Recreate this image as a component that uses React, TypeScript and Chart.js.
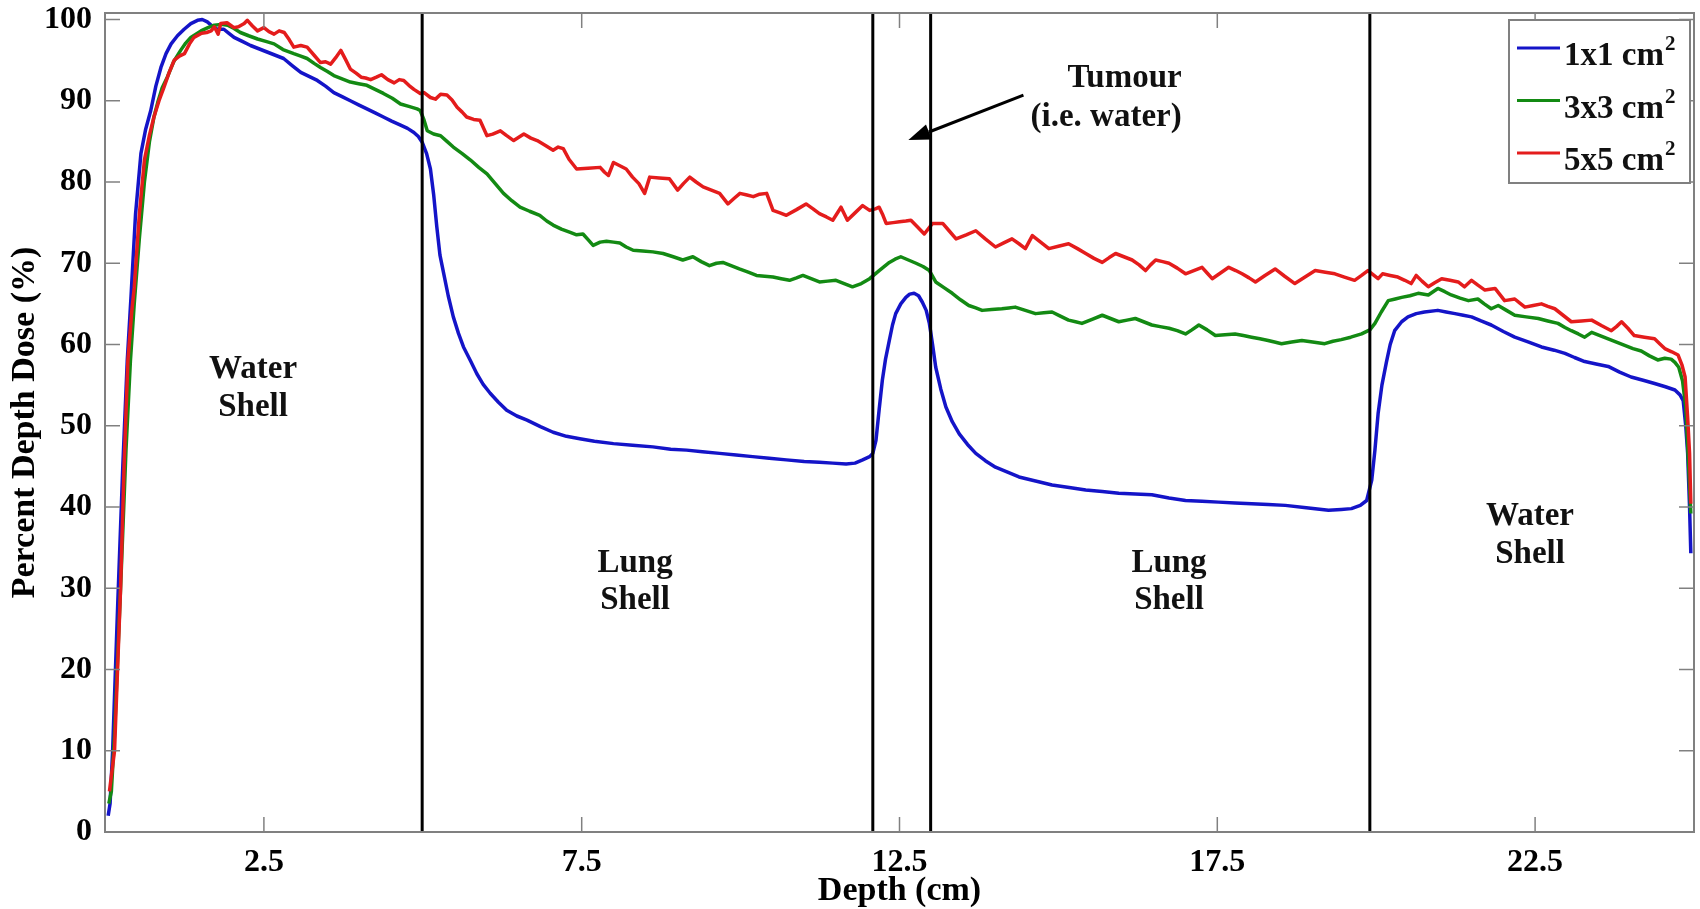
import React, { useEffect, useRef } from "react";
import { Chart, registerables } from "chart.js";

Chart.register(...registerables);

// ---------- data ----------
const depth1x1 = [0.05,0.08,0.12,0.2,0.28,0.35,0.41,0.48,0.565,0.64,0.72,0.8,0.88,0.96,1.04,1.14,1.245,1.35,1.455,1.53,1.61,1.7,1.77,1.87,1.95,2.03,2.16,2.29,2.42,2.55,2.68,2.81,2.95,3.08,3.21,3.34,3.47,3.6,3.73,3.86,3.99,4.12,4.25,4.38,4.51,4.65,4.76,4.86,4.93,4.99,5.06,5.12,5.17,5.22,5.27,5.33,5.4,5.48,5.56,5.64,5.75,5.85,5.95,6.06,6.19,6.32,6.48,6.64,6.85,7.05,7.26,7.47,7.7,8.0,8.3,8.62,8.9,9.15,9.4,9.67,9.93,10.19,10.45,10.72,11.0,11.24,11.45,11.66,11.8,11.92,12.03,12.08,12.13,12.18,12.23,12.28,12.34,12.39,12.44,12.52,12.6,12.66,12.73,12.8,12.86,12.92,12.97,13.02,13.07,13.15,13.23,13.33,13.44,13.57,13.7,13.85,14.01,14.2,14.38,14.64,14.9,15.17,15.43,15.69,15.95,16.21,16.47,16.74,17.0,17.26,17.52,17.78,18.04,18.3,18.57,18.9,19.25,19.45,19.61,19.75,19.85,19.93,19.98,20.03,20.09,20.16,20.22,20.29,20.4,20.5,20.63,20.76,20.97,21.1,21.24,21.37,21.5,21.65,21.81,22.0,22.18,22.4,22.6,22.8,22.97,23.12,23.28,23.46,23.65,23.83,24.01,24.2,24.38,24.55,24.7,24.78,24.83,24.87,24.9,24.93,24.95];
const dose1x1 = [2.0,3.5,10,28,45,58,66,76,83.5,86.5,88.8,91.8,94.1,95.8,97,98,98.8,99.5,99.9,100,99.7,99.1,98.8,98.8,98.3,97.8,97.3,96.8,96.4,96,95.6,95.2,94.3,93.5,93.0,92.5,91.8,91,90.5,90,89.5,89,88.5,88,87.5,87,86.6,86.1,85.6,84.9,83.5,81.6,78.5,74.5,71,68.7,66,63.4,61.4,59.7,58,56.4,55.1,54,52.9,51.9,51.2,50.7,49.9,49.2,48.7,48.4,48.1,47.8,47.6,47.4,47.1,47,46.8,46.6,46.4,46.2,46,45.8,45.6,45.5,45.4,45.3,45.4,45.8,46.2,46.6,48.2,52,55.6,58.2,60.5,62.4,63.8,65,65.8,66.2,66.3,66,65.2,64.2,62.6,60,57.2,54.5,52.3,50.5,49,47.7,46.6,45.7,44.9,44.3,43.7,43.2,42.7,42.4,42.1,41.9,41.7,41.6,41.5,41.1,40.8,40.7,40.6,40.5,40.4,40.3,40.2,39.9,39.6,39.7,39.8,40.2,40.8,43.3,47,51.5,55,57.8,60,61.7,62.8,63.4,63.8,64,64.2,64,63.8,63.6,63.4,62.9,62.4,61.6,60.9,60.3,59.7,59.3,58.9,58.4,57.9,57.6,57.3,56.6,56,55.6,55.2,54.8,54.4,53.8,53.1,50,46.6,40,34.3];

const depth3x3 = [0.06,0.1,0.15,0.25,0.33,0.4,0.46,0.54,0.62,0.7,0.77,0.83,0.9,0.98,1.08,1.19,1.27,1.35,1.43,1.51,1.62,1.72,1.83,1.93,2.03,2.13,2.26,2.4,2.53,2.66,2.8,2.97,3.08,3.18,3.29,3.39,3.5,3.6,3.73,3.86,3.99,4.12,4.25,4.38,4.52,4.65,4.78,4.91,4.96,5.02,5.07,5.17,5.28,5.38,5.48,5.62,5.75,5.88,6.01,6.14,6.27,6.4,6.53,6.68,6.84,6.95,7.05,7.18,7.32,7.42,7.52,7.6,7.68,7.79,7.89,8.0,8.1,8.2,8.31,8.46,8.62,8.78,8.94,9.09,9.25,9.38,9.51,9.62,9.72,9.85,9.98,10.12,10.25,10.38,10.51,10.64,10.77,10.88,10.98,11.11,11.24,11.37,11.5,11.63,11.76,11.9,12.03,12.18,12.34,12.43,12.52,12.64,12.76,12.87,12.97,13.07,13.2,13.33,13.46,13.59,13.7,13.8,13.95,14.11,14.22,14.32,14.48,14.64,14.77,14.9,15.03,15.16,15.27,15.37,15.53,15.69,15.82,15.95,16.08,16.21,16.34,16.47,16.6,16.74,16.87,17.0,17.1,17.21,17.34,17.47,17.62,17.78,17.91,18.04,18.17,18.3,18.4,18.51,18.67,18.83,19.0,19.19,19.32,19.45,19.6,19.77,19.9,19.98,20.08,20.19,20.3,20.4,20.53,20.66,20.82,20.97,21.08,21.18,21.32,21.45,21.6,21.7,21.81,21.92,22.05,22.18,22.36,22.55,22.7,22.86,22.97,23.07,23.18,23.28,23.39,23.52,23.65,23.78,23.91,24.04,24.17,24.3,24.43,24.54,24.64,24.7,24.76,24.82,24.87,24.91,24.95];
const dose3x3 = [3.5,5,12,31,47,58,65,73,80,85,88,89.8,91.6,92.9,94.8,96.2,97.1,97.8,98.2,98.6,99,99.3,99.4,99.3,98.9,98.4,98,97.6,97.3,97,96.3,95.8,95.5,95.2,94.6,94.1,93.6,93.1,92.7,92.3,92.1,91.9,91.4,90.9,90.3,89.6,89.3,89,88.8,87.6,86.3,85.9,85.7,85,84.3,83.5,82.7,81.8,81,79.8,78.6,77.7,76.9,76.4,75.9,75.2,74.7,74.2,73.8,73.5,73.6,72.9,72.2,72.6,72.7,72.6,72.5,72,71.6,71.5,71.4,71.2,70.8,70.4,70.8,70.2,69.7,70,70.1,69.7,69.3,68.9,68.5,68.4,68.3,68.1,67.9,68.2,68.5,68.1,67.7,67.8,67.9,67.5,67.1,67.5,68.1,69.1,70.1,70.5,70.8,70.4,70,69.6,69.1,67.7,67,66.3,65.5,64.8,64.5,64.2,64.3,64.4,64.5,64.6,64.2,63.8,63.9,64,63.5,63,62.8,62.6,63.1,63.6,63.2,62.8,63,63.2,62.8,62.4,62.2,62,61.7,61.3,61.8,62.4,61.8,61.1,61.2,61.3,61.1,60.9,60.7,60.5,60.3,60.1,60.3,60.5,60.3,60.1,60.4,60.6,60.9,61.3,61.8,62.6,64,65.4,65.6,65.8,66,66.3,66.1,66.9,66.5,66.1,65.7,65.4,65.6,65,64.4,64.8,64.2,63.6,63.4,63.2,62.9,62.6,62.1,61.7,61.3,60.9,61.5,61.1,60.7,60.3,59.9,59.5,59.2,58.6,58.1,58.3,58.2,57.8,57.2,55.5,52.3,46,39.2];

const depth5x5 = [0.07,0.15,0.245,0.3,0.36,0.42,0.46,0.54,0.62,0.7,0.77,0.85,0.93,1.01,1.09,1.17,1.25,1.33,1.4,1.52,1.6,1.67,1.72,1.78,1.82,1.92,2.03,2.1,2.19,2.24,2.32,2.4,2.5,2.58,2.66,2.74,2.82,2.9,2.97,3.08,3.18,3.29,3.39,3.47,3.55,3.63,3.71,3.79,3.86,3.95,4.03,4.1,4.18,4.27,4.35,4.45,4.55,4.63,4.7,4.78,4.86,4.96,5.02,5.12,5.2,5.28,5.38,5.46,5.54,5.62,5.69,5.8,5.9,6.01,6.1,6.22,6.32,6.43,6.51,6.59,6.7,6.8,6.93,7.05,7.13,7.21,7.3,7.42,7.6,7.79,7.86,7.92,8.0,8.1,8.2,8.3,8.4,8.49,8.57,8.72,8.88,9.01,9.1,9.2,9.3,9.41,9.54,9.67,9.8,9.9,9.99,10.1,10.2,10.3,10.41,10.51,10.62,10.72,10.88,11.03,11.14,11.24,11.35,11.45,11.58,11.68,11.8,11.92,12.03,12.12,12.18,12.24,12.29,12.4,12.5,12.6,12.68,12.78,12.89,13.02,13.18,13.28,13.39,13.55,13.7,13.85,14.01,14.14,14.27,14.38,14.48,14.59,14.72,14.85,15.0,15.16,15.3,15.43,15.56,15.69,15.8,15.9,16.03,16.16,16.27,16.37,16.45,16.53,16.64,16.74,16.87,17.0,17.13,17.26,17.34,17.42,17.55,17.68,17.79,17.89,18.0,18.1,18.25,18.41,18.56,18.72,18.88,19.04,19.2,19.35,19.5,19.66,19.77,19.87,19.95,20.03,20.1,20.22,20.34,20.45,20.55,20.63,20.72,20.82,20.92,21.03,21.16,21.29,21.39,21.5,21.6,21.71,21.87,21.95,22.02,22.18,22.26,22.34,22.47,22.6,22.7,22.81,22.94,23.07,23.23,23.39,23.55,23.7,23.78,23.86,23.96,24.06,24.22,24.38,24.46,24.54,24.65,24.75,24.81,24.86,24.9,24.93,24.95];
const dose5x5 = [5,10,30,45,58,64,67,76,82.7,85.8,88,90,91.7,93.5,95,95.5,95.8,97,97.8,98.3,98.4,98.6,99.1,98.2,99.5,99.6,99,99.1,99.5,99.9,99.2,98.6,99,98.5,98.2,98.6,98.4,97.5,96.6,96.8,96.6,95.6,94.7,94.8,94.5,95.3,96.2,95,93.9,93.4,92.9,92.8,92.6,92.9,93.2,92.6,92.2,92.6,92.5,91.9,91.4,90.9,91,90.4,90.2,90.8,90.7,90.1,89.2,88.6,88,87.7,87.6,85.7,85.9,86.3,85.7,85.1,85.5,85.9,85.4,85.1,84.5,83.9,84.3,84.1,82.8,81.6,81.7,81.8,81.2,80.8,82.4,82,81.6,80.6,79.8,78.6,80.6,80.5,80.4,79,79.8,80.6,80,79.4,79,78.6,77.3,78,78.6,78.4,78.2,78.5,78.6,76.5,76.2,75.9,76.6,77.3,76.7,76.1,75.7,75.3,76.9,75.3,76.2,77.1,76.5,76.7,76.9,75.9,74.9,75,75.1,75.2,75.3,74.5,73.6,74.9,74.9,74,73,73.5,74,73,72,72.5,73,72.4,71.8,73.4,72.6,71.8,72.1,72.4,71.8,71.2,70.6,70.1,70.7,71.2,70.8,70.4,69.8,69.1,69.8,70.4,70.2,70,69.4,68.7,69.1,69.5,68.8,68.1,68.8,69.5,69.1,68.7,68.2,67.7,68.5,69.3,68.4,67.5,68.3,69.1,68.9,68.7,68.3,67.9,68.5,69.1,68.6,68.1,68.7,68.5,68.3,67.9,67.5,68.5,67.8,67.1,67.6,68.1,67.9,67.7,67.1,67.9,67.3,66.7,66.9,66.1,65.4,65.6,65.1,64.6,64.8,65,64.7,64.4,63.6,62.8,62.9,63,62.3,61.7,62.2,62.8,62,61.1,60.9,60.7,60.1,59.5,59.1,58.7,57.5,56,51,46.6,40.4];

const seriesLabels = ["1x1 cm²", "3x3 cm²", "5x5 cm²"];
const xTickValues = [2.5, 7.5, 12.5, 17.5, 22.5];
const xTickLabels = ["2.5", "7.5", "12.5", "17.5", "22.5"];
const yTickValues = [0, 10, 20, 30, 40, 50, 60, 70, 80, 90, 100];
const yTickLabels = ["0", "10", "20", "30", "40", "50", "60", "70", "80", "90", "100"];
const boundaryDepths = [4.99, 12.08, 12.99, 19.9];

// annotation texts (positions in data units)
const regionTexts = [
  { lines: ["Water", "Shell"], depth: 2.33, doses: [56.9, 52.3] },
  { lines: ["Lung", "Shell"], depth: 8.34, doses: [33.1, 28.55] },
  { lines: ["Lung", "Shell"], depth: 16.74, doses: [33.1, 28.55] },
  { lines: ["Water", "Shell"], depth: 22.42, doses: [38.8, 34.1] },
];
const tumourText = { lines: ["Tumour", "(i.e. water)"], rightDepth: 16.94, doses: [92.8, 87.9] };
const tumourArrow = { from: [14.45, 90.7], to: [12.64, 85.17] };

// ---------- styles ----------
const SERIF = "'Liberation Serif', 'Times New Roman', Times, serif";
const COLORS = ["#1414c8", "#138a13", "#e41c1c"];
const BOX_COLOR = "#808080";

function pairs(xs: number[], ys: number[]) {
  return xs.map((x, i) => ({ x, y: ys[i] }));
}

const decorPlugin = {
  id: "decor",
  beforeDraw(chart: any) {
    const { ctx, width, height } = chart;
    ctx.save();
    ctx.fillStyle = "#ffffff";
    ctx.fillRect(0, 0, width, height);
    ctx.restore();
  },
  afterDatasetsDraw(chart: any) {
    const { ctx, chartArea: a, scales } = chart;
    const xs = scales.x;
    const ys = scales.y;
    const line = (x1: number, y1: number, x2: number, y2: number) => {
      ctx.beginPath();
      ctx.moveTo(x1, y1);
      ctx.lineTo(x2, y2);
      ctx.stroke();
    };
    ctx.save();

    // region boundary lines
    ctx.strokeStyle = "#000";
    ctx.lineWidth = 3;
    boundaryDepths.forEach((d) => {
      const px = xs.getPixelForValue(d);
      line(px, a.top, px, a.bottom);
    });

    // axes box
    ctx.strokeStyle = BOX_COLOR;
    ctx.lineWidth = 2;
    ctx.strokeRect(a.left, a.top, a.right - a.left, a.bottom - a.top);

    // inward ticks on all four sides
    ctx.lineWidth = 1.5;
    const tl = 15;
    yTickValues.forEach((v) => {
      const py = ys.getPixelForValue(v);
      line(a.left, py, a.left + tl, py);
      line(a.right - tl, py, a.right, py);
    });
    xTickValues.forEach((v) => {
      const px = xs.getPixelForValue(v);
      line(px, a.bottom, px, a.bottom - tl);
      line(px, a.top, px, a.top + tl);
    });

    // region texts
    ctx.fillStyle = "#111";
    ctx.font = `bold 33px ${SERIF}`;
    ctx.textBaseline = "middle";
    ctx.textAlign = "center";
    regionTexts.forEach((t) => {
      const px = xs.getPixelForValue(t.depth);
      t.lines.forEach((s, i) => ctx.fillText(s, px, ys.getPixelForValue(t.doses[i])));
    });
    ctx.textAlign = "right";
    const rx = xs.getPixelForValue(tumourText.rightDepth);
    tumourText.lines.forEach((s, i) => ctx.fillText(s, rx, ys.getPixelForValue(tumourText.doses[i])));

    // arrow
    const x1 = xs.getPixelForValue(tumourArrow.from[0]);
    const y1 = ys.getPixelForValue(tumourArrow.from[1]);
    const x2 = xs.getPixelForValue(tumourArrow.to[0]);
    const y2 = ys.getPixelForValue(tumourArrow.to[1]);
    const ang = Math.atan2(y2 - y1, x2 - x1);
    const hl = 22, hw = 8;
    const bx = x2 - hl * Math.cos(ang);
    const by = y2 - hl * Math.sin(ang);
    ctx.strokeStyle = "#000";
    ctx.lineWidth = 3;
    line(x1, y1, bx, by);
    ctx.fillStyle = "#000";
    ctx.beginPath();
    ctx.moveTo(x2, y2);
    ctx.lineTo(bx + hw * Math.sin(ang), by - hw * Math.cos(ang));
    ctx.lineTo(bx - hw * Math.sin(ang), by + hw * Math.cos(ang));
    ctx.closePath();
    ctx.fill();

    // legend box
    const lw = 181, lh = 163;
    const lx = a.right - 4 - lw;
    const ly = a.top + 7;
    ctx.fillStyle = "#fff";
    ctx.fillRect(lx, ly, lw, lh);
    ctx.strokeStyle = BOX_COLOR;
    ctx.lineWidth = 2;
    ctx.strokeRect(lx, ly, lw, lh);
    chart.data.datasets.forEach((ds: any, i: number) => {
      const ry = ly + 28 + i * 52.5;
      ctx.strokeStyle = ds.borderColor;
      ctx.lineWidth = 3;
      line(lx + 8, ry, lx + 51, ry);
      const hasSup = ds.label.includes("²");
      const main = ds.label.replace("²", "");
      ctx.fillStyle = "#111";
      ctx.textAlign = "left";
      ctx.textBaseline = "alphabetic";
      ctx.font = `bold 33px ${SERIF}`;
      ctx.fillText(main, lx + 55, ry + 17);
      if (hasSup) {
        const w = ctx.measureText(main).width;
        ctx.font = `bold 21px ${SERIF}`;
        ctx.fillText("2", lx + 56 + w, ry + 2);
      }
    });

    ctx.restore();
  },
};

export default function App() {
  const ref = useRef<HTMLCanvasElement | null>(null);

  useEffect(() => {
    const canvas = ref.current;
    if (!canvas) return;
    const tickFont = { family: SERIF, weight: "bold" as const, size: 32 };
    const titleFont = { family: SERIF, weight: "bold" as const, size: 34, lineHeight: 1 };
    const chart = new Chart(canvas, {
      type: "line",
      data: {
        datasets: [
          { label: seriesLabels[0], data: pairs(depth1x1, dose1x1), borderColor: COLORS[0], order: 2 },
          { label: seriesLabels[1], data: pairs(depth3x3, dose3x3), borderColor: COLORS[1], order: 1 },
          { label: seriesLabels[2], data: pairs(depth5x5, dose5x5), borderColor: COLORS[2], order: 0 },
        ].map((d) => ({
          ...d,
          borderWidth: 3.5,
          pointRadius: 0,
          fill: false,
          tension: 0,
          borderJoinStyle: "round" as const,
          backgroundColor: d.borderColor,
        })),
      },
      options: {
        responsive: false,
        animation: false,
        devicePixelRatio: 1,
        layout: { padding: { left: 0, top: 13, right: 6, bottom: 0 } },
        plugins: { legend: { display: false }, tooltip: { enabled: false } },
        scales: {
          x: {
            type: "linear",
            min: 0,
            max: 25,
            grid: { display: false },
            border: { display: false },
            ticks: {
              color: "#000",
              font: tickFont,
              padding: 4,
              autoSkip: false,
              maxRotation: 0,
              callback: (v: any) => {
                const i = xTickValues.indexOf(Number(v));
                return i >= 0 ? xTickLabels[i] : "";
              },
            },
            afterBuildTicks: (s: any) => {
              s.ticks = xTickValues.map((value) => ({ value }));
            },
            afterFit: (s: any) => {
              s.height = 77;
              s.paddingLeft = 0;
              s.paddingRight = 0;
            },
            title: {
              display: true,
              text: "Depth (cm)",
              color: "#000",
              font: titleFont,
              padding: { top: 0, bottom: 1 },
            },
          },
          y: {
            type: "linear",
            min: 0,
            max: 100.8,
            grid: { display: false },
            border: { display: false },
            ticks: {
              color: "#000",
              font: tickFont,
              padding: 5,
              autoSkip: false,
              callback: (v: any) => {
                const i = yTickValues.indexOf(Number(v));
                return i >= 0 ? yTickLabels[i] : "";
              },
            },
            afterBuildTicks: (s: any) => {
              s.ticks = yTickValues.map((value) => ({ value }));
            },
            afterFit: (s: any) => {
              s.width = 105;
              s.paddingTop = 0;
              s.paddingBottom = 0;
            },
            title: {
              display: true,
              text: "Percent Depth Dose (%)",
              color: "#000",
              font: titleFont,
              padding: { top: 8, bottom: 0 },
            },
          },
        },
      },
      plugins: [decorPlugin],
    } as any);
    return () => chart.destroy();
  }, []);

  return (
    <div style={{ position: "fixed", left: 0, top: 0, width: 1700, height: 909, background: "#fff" }}>
      <canvas ref={ref} width={1700} height={909} style={{ display: "block", width: 1700, height: 909 }} />
    </div>
  );
}
